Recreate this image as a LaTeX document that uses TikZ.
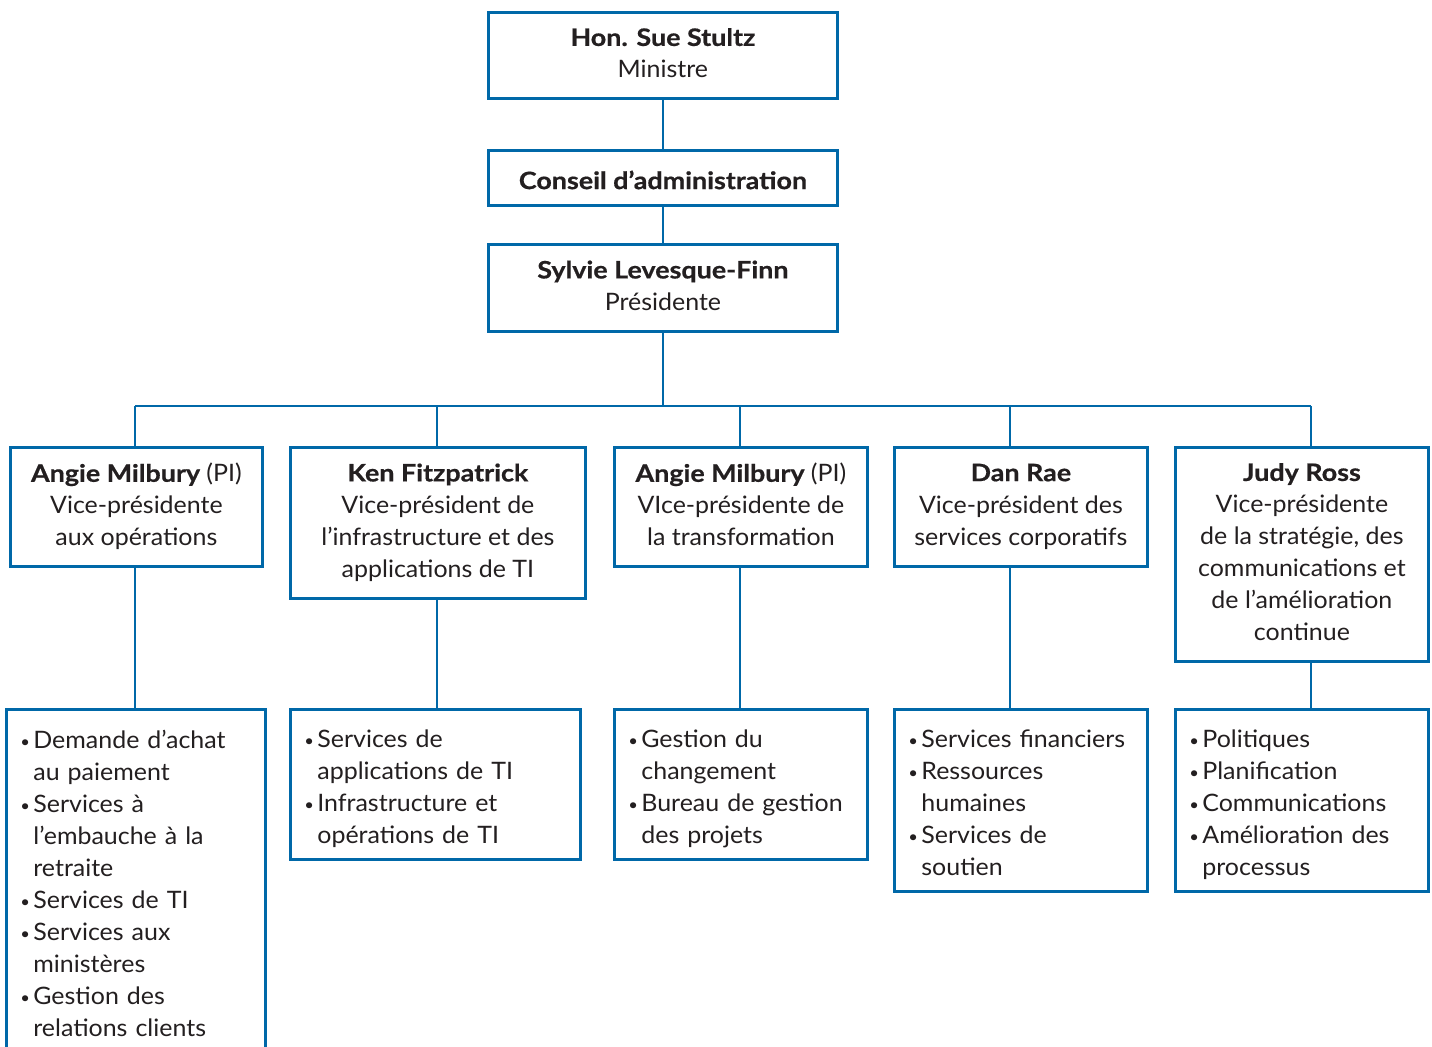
\documentclass[tikz,border=0pt]{standalone}
\usepackage{fontspec}
\setmainfont{Lato}[FakeStretch=1.04, BoldFeatures={FakeStretch=1.12, FakeBold=0.6}]

\definecolor{orgblue}{RGB}{0,104,168}
\definecolor{orgtext}{RGB}{35,31,32}

\newcommand\bul{\makebox[6.5pt][l]{\raisebox{0.4pt}{\footnotesize\textbullet}}}
\newcommand\ind{\hspace*{6.5pt}}
\newcommand\tp{\rule{0pt}{13.6pt}}
\newcommand\bt{\rule[-2.4pt]{0pt}{2.4pt}}

\begin{document}
\begin{tikzpicture}[x=0.5pt, y=-0.5pt,
  box/.style={draw=orgblue, line width=1.4pt, fill=white, text=orgtext,
    align=center, inner sep=0pt, anchor=north west,
    font=\fontsize{12}{16}\selectfont,
    execute at begin node=\tp, execute at end node=\bt},
  list/.style={box, align=left, inner xsep=7pt},
  link/.style={draw=orgblue, line width=1.4pt}]

  \newcommand\Px{0.5pt}

  \clip (0,0) rectangle (1432,1047);

  %% minister, board, president
  \node[box, minimum width=349*\Px, minimum height=86*\Px] (min) at (487,11)
  {\textbf{Hon. Sue Stultz}\\Ministre};
  \node[box, minimum width=349*\Px, minimum height=55*\Px] (cons) at (487,149)
  {\textbf{Conseil d’administration}};
  \node[box, minimum width=349*\Px, minimum height=87*\Px] (pres) at (487,243)
  {\textbf{Sylvie Levesque-Finn}\\Présidente};

  %% vice-presidents
  \node[box, minimum width=252*\Px, minimum height=119*\Px] (vp1) at (9,446)
  {\textbf{Angie Milbury} (PI)\\Vice-présidente\\aux opérations};
  \node[box, minimum width=295*\Px, minimum height=151*\Px] (vp2) at (289,446)
  {\textbf{Ken Fitzpatrick}\\Vice-président de\\l’infrastructure et des\\applications de TI};
  \node[box, minimum width=253*\Px, minimum height=119*\Px] (vp3) at (613,446)
  {\textbf{Angie Milbury} (PI)\\VIce-présidente de\\la transformation};
  \node[box, minimum width=253*\Px, minimum height=119*\Px] (vp4) at (893,446)
  {\textbf{Dan Rae}\\Vice-président des\\services corporatifs};
  \node[box, minimum width=253*\Px, minimum height=214*\Px] (vp5) at (1174,446)
  {\textbf{Judy Ross}\\Vice-présidente\\de la stratégie, des\\communications et\\de l’amélioration\\continue};

  %% services
  \node[list, text width=115.5pt, minimum height=343*\Px] (sv1) at (5,708)
  {\bul Demande d’achat\\\ind au paiement\\\bul Services à\\\ind l’embauche à la\\\ind retraite\\
   \bul Services de TI\\\bul Services aux\\\ind ministères\\\bul Gestion des\\\ind relations clients};
  \node[list, text width=131pt, minimum height=150*\Px] (sv2) at (289,708)
  {\bul Services de\\\ind applications de TI\\\bul Infrastructure et\\\ind opérations de TI};
  \node[list, text width=112.5pt, minimum height=150*\Px] (sv3) at (613,708)
  {\bul Gestion du\\\ind changement\\\bul Bureau de gestion\\\ind des projets};
  \node[list, text width=112.5pt, minimum height=182*\Px] (sv4) at (893,708)
  {\bul Services financiers\\\bul Ressources\\\ind humaines\\\bul Services de\\\ind soutien};
  \node[list, text width=112.5pt, minimum height=182*\Px] (sv5) at (1174,708)
  {\bul Politiques\\\bul Planification\\\bul Communications\\\bul Amélioration des\\\ind processus};

  %% taps on the bus
  \coordinate (t1) at (135,406);
  \coordinate (t2) at (437,406);
  \coordinate (t3) at (740,406);
  \coordinate (t4) at (1010,406);
  \coordinate (t5) at (1311,406);

  \draw[link] (min) -- (cons);
  \draw[link] (cons) -- (pres);
  \draw[link] (pres) -- (pres |- t1);
  \draw[link] (t1) -- (t5);
  \foreach \i in {1,...,5}{
    \draw[link] (t\i) -- (t\i |- vp\i.north);
    \draw[link] (t\i |- vp\i.south) -- (t\i |- sv\i.north);
  }

\end{tikzpicture}
\end{document}
